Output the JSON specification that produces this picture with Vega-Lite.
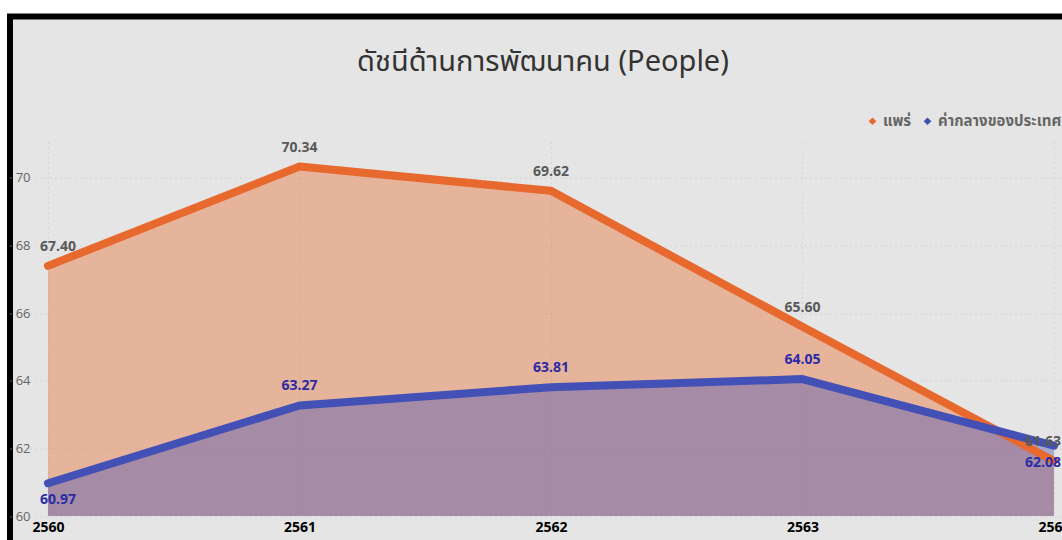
{
  "$schema": "https://vega.github.io/schema/vega-lite/v6.json",
  "width": 1052,
  "height": 523.5,
  "autosize": {"type": "none"},
  "padding": {"left": 10, "top": 16.5, "right": 0, "bottom": 0},
  "background": "#ffffff",
  "title": {
    "text": "ดัชนีด้านการพัฒนาคน (People)",
    "anchor": "middle",
    "frame": "group",
    "offset": -60,
    "dx": 7,
    "fontSize": 29,
    "font": "Noto Sans Thai, Noto Sans, sans-serif",
    "fontWeight": "normal",
    "color": "#333333"
  },
  "data": {
    "values": [
      {"year": 2560, "series": "แพร่", "value": 67.40},
      {"year": 2561, "series": "แพร่", "value": 70.34},
      {"year": 2562, "series": "แพร่", "value": 69.62},
      {"year": 2563, "series": "แพร่", "value": 65.60},
      {"year": 2564, "series": "แพร่", "value": 61.63},
      {"year": 2560, "series": "ค่ากลางของประเทศ", "value": 60.97},
      {"year": 2561, "series": "ค่ากลางของประเทศ", "value": 63.27},
      {"year": 2562, "series": "ค่ากลางของประเทศ", "value": 63.81},
      {"year": 2563, "series": "ค่ากลางของประเทศ", "value": 64.05},
      {"year": 2564, "series": "ค่ากลางของประเทศ", "value": 62.08}
    ]
  },
  "encoding": {
    "x": {
      "field": "year",
      "type": "quantitative",
      "scale": {"domain": [2559.849, 2564.032], "nice": false, "zero": false},
      "axis": {
        "title": null,
        "values": [2560, 2561, 2562, 2563, 2564],
        "format": "d",
        "offset": -24,
        "domain": false,
        "ticks": false,
        "tickSize": 0,
        "labelPadding": 4,
        "labelFlush": false,
        "labelFont": "Open Sans",
        "labelFontSize": 14,
        "labelFontWeight": "bold",
        "labelColor": "#000000",
        "grid": true,
        "gridColor": "#c4c4c4",
        "gridWidth": 1,
        "gridDash": [0, 125.5,
          1,4,1,4,1,4,1,4,1,4,1,4,1,4,1,4,1,4,1,4,1,4,1,4,1,4,1,4,1,4,
          1,4,1,4,1,4,1,4,1,4,1,4,1,4,1,4,1,4,1,4,1,4,1,4,1,4,1,4,1,4,
          1,4,1,4,1,4,1,4,1,4,1,4,1,4,1,4,1,4,1,4,1,4,1,4,1,4,1,4,1,4,
          1,4,1,4,1,4,1,4,1,4,1,4,1,4,1,4,1,4,1,4,1,4,1,4,1,4,1,4,1,4,
          1,4,1,4,1,4,1,4,1,4,1,4,1,4,1,4,1,4,1,4,1,4,1,4,1,4,1,4,1,4,
          0, 100]
      }
    },
    "y": {
      "field": "value",
      "type": "quantitative",
      "scale": {"domain": [59.29, 74.778], "nice": false, "zero": false},
      "axis": {
        "title": null,
        "values": [60, 62, 64, 66, 68, 70],
        "offset": -20,
        "domain": false,
        "ticks": false,
        "tickSize": 0,
        "labelPadding": 0,
        "labelFont": "Open Sans",
        "labelFontSize": 13,
        "labelColor": "#666666",
        "grid": true,
        "gridColor": "#c4c4c4",
        "gridWidth": 1,
        "gridDash": [1, 4]
      }
    }
  },
  "layer": [
    {
      "transform": [{"filter": "datum.series == 'แพร่'"}],
      "mark": {"type": "area", "fillOpacity": 0.4},
      "encoding": {
        "y2": {"datum": 60},
        "fill": {
          "field": "series",
          "type": "nominal",
          "scale": {"domain": ["แพร่", "ค่ากลางของประเทศ"], "range": ["#e8692e", "#4350b5"]},
          "legend": {"title": null}
        }
      }
    },
    {
      "transform": [{"filter": "datum.series == 'ค่ากลางของประเทศ'"}],
      "mark": {"type": "area", "fillOpacity": 0.4},
      "encoding": {
        "y2": {"datum": 60},
        "fill": {"field": "series", "type": "nominal"}
      }
    },
    {
      "transform": [{"filter": "datum.series == 'แพร่'"}],
      "mark": {"type": "line", "strokeWidth": 8, "strokeCap": "round", "strokeJoin": "round"},
      "encoding": {
        "stroke": {
          "field": "series",
          "type": "nominal",
          "scale": {"domain": ["แพร่", "ค่ากลางของประเทศ"], "range": ["#e8692e", "#4350b5"]},
          "legend": null
        }
      }
    },
    {
      "transform": [{"filter": "datum.series == 'ค่ากลางของประเทศ'"}],
      "mark": {"type": "line", "strokeWidth": 8, "strokeCap": "round", "strokeJoin": "round"},
      "encoding": {
        "stroke": {"field": "series", "type": "nominal", "legend": null}
      }
    },
    {
      "transform": [{"filter": "datum.series == 'แพร่' && datum.year > 2560 && datum.year < 2564"}],
      "mark": {"type": "text", "dy": -19, "align": "center", "baseline": "middle", "font": "Open Sans", "fontSize": 14, "fontWeight": "bold", "color": "#595959"},
      "encoding": {"text": {"field": "value", "type": "quantitative", "format": ".2f"}}
    },
    {
      "transform": [{"filter": "datum.series == 'แพร่' && datum.year == 2560"}],
      "mark": {"type": "text", "dy": -19, "dx": -8, "align": "left", "baseline": "middle", "font": "Open Sans", "fontSize": 14, "fontWeight": "bold", "color": "#595959"},
      "encoding": {"text": {"field": "value", "type": "quantitative", "format": ".2f"}}
    },
    {
      "transform": [{"filter": "datum.series == 'แพร่' && datum.year == 2564"}],
      "mark": {"type": "text", "dy": -19, "dx": 7, "align": "right", "baseline": "middle", "font": "Open Sans", "fontSize": 14, "fontWeight": "bold", "color": "#595959"},
      "encoding": {"text": {"field": "value", "type": "quantitative", "format": ".2f"}}
    },
    {
      "transform": [{"filter": "datum.series == 'ค่ากลางของประเทศ' && datum.year > 2560 && datum.year < 2564"}],
      "mark": {"type": "text", "dy": -19, "align": "center", "baseline": "middle", "font": "Open Sans", "fontSize": 14, "fontWeight": "bold", "color": "#2b2ba6"},
      "encoding": {"text": {"field": "value", "type": "quantitative", "format": ".2f"}}
    },
    {
      "transform": [{"filter": "datum.series == 'ค่ากลางของประเทศ' && datum.year == 2560"}],
      "mark": {"type": "text", "dy": 17, "dx": -8, "align": "left", "baseline": "middle", "font": "Open Sans", "fontSize": 14, "fontWeight": "bold", "color": "#2b2ba6"},
      "encoding": {"text": {"field": "value", "type": "quantitative", "format": ".2f"}}
    },
    {
      "transform": [{"filter": "datum.series == 'ค่ากลางของประเทศ' && datum.year == 2564"}],
      "mark": {"type": "text", "dy": 17, "dx": 7, "align": "right", "baseline": "middle", "font": "Open Sans", "fontSize": 14, "fontWeight": "bold", "color": "#2b2ba6"},
      "encoding": {"text": {"field": "value", "type": "quantitative", "format": ".2f"}}
    }
  ],
  "config": {
    "view": {
      "fill": "#e5e5e5",
      "stroke": "#000000",
      "strokeWidth": 6,
      "strokeCap": "square",
      "strokeDash": [1052, 1575.5, 523.5, 10]
    },
    "legend": {
      "orient": "none",
      "legendX": 855,
      "legendY": 97,
      "direction": "horizontal",
      "padding": 0,
      "symbolType": "diamond",
      "symbolSize": 60,
      "symbolStrokeWidth": 0,
      "labelFont": "Noto Sans Thai, Noto Sans, sans-serif",
      "labelFontSize": 15,
      "labelFontWeight": "bold",
      "labelColor": "#666666",
      "labelOffset": 3,
      "columnPadding": 8
    }
  }
}
